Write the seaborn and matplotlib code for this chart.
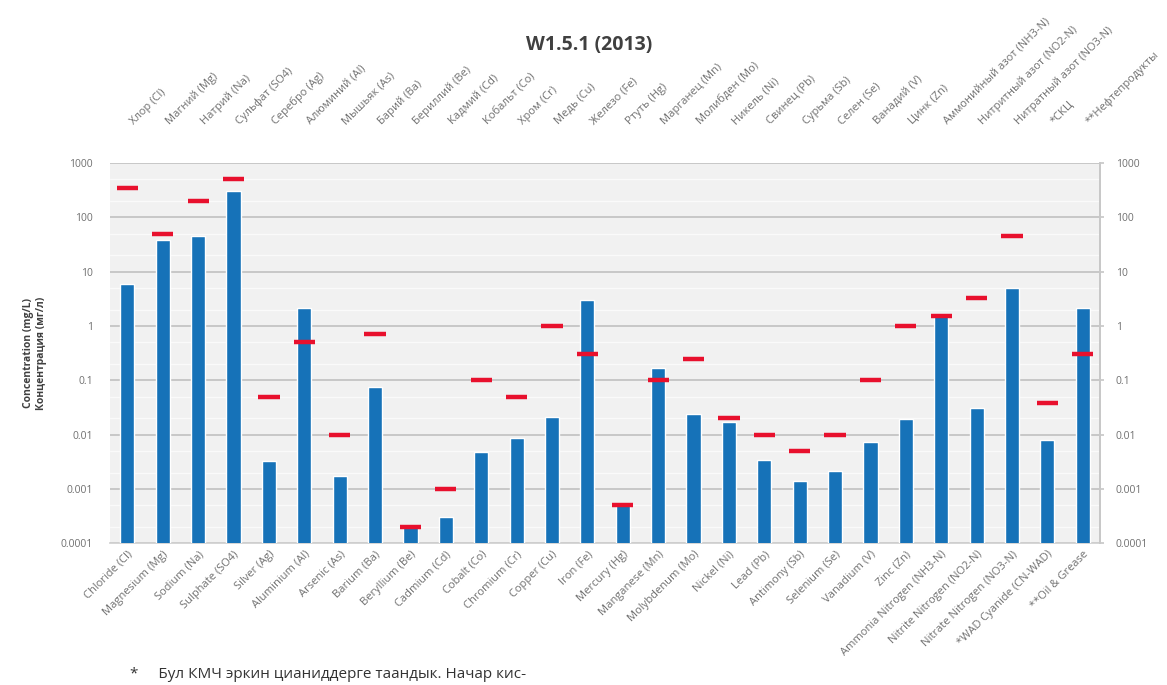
import numpy as np
import pandas as pd
import matplotlib
matplotlib.use("Agg")
import matplotlib.pyplot as plt
import seaborn as sns
from matplotlib.ticker import FixedLocator, NullFormatter

# ---------------- data ----------------
labels_en = ["Chloride (Cl)", "Magnesium (Mg)", "Sodium (Na)", "Sulphate (SO4)", "Silver (Ag)",
             "Aluminium (Al)", "Arsenic (As)", "Barium (Ba)", "Beryllium (Be)", "Cadmium (Cd)",
             "Cobalt (Co)", "Chromium (Cr)", "Copper (Cu)", "Iron (Fe)", "Mercury (Hg)",
             "Manganese (Mn)", "Molybdenum (Mo)", "Nickel (Ni)", "Lead (Pb)", "Antimony (Sb)",
             "Selenium (Se)", "Vanadium (V)", "Zinc (Zn)", "Ammonia Nitrogen (NH3-N)",
             "Nitrite Nitrogen (NO2-N)", "Nitrate Nitrogen (NO3-N)", "*WAD Cyanide (CN-WAD)",
             "**Oil & Grease"]
labels_ru = ["Хлор (Cl)", "Магний (Mg)", "Натрий (Na)", "Сульфат (SO4)", "Серебро (Ag)",
             "Алюминий (Al)", "Мышьяк (As)", "Барий (Ba)", "Бериллий (Be)", "Кадмий (Cd)",
             "Кобальт (Co)", "Хром (Cr)", "Медь (Cu)", "Железо (Fe)", "Ртуть (Hg)",
             "Марганец (Mn)", "Молибден (Mo)", "Никель (Ni)", "Свинец (Pb)", "Сурьма (Sb)",
             "Селен (Se)", "Ванадий (V)", "Цинк (Zn)", "Аммонийный азот (NH3-N)",
             "Нитритный азот (NO2-N)", "Нитратный азот (NO3-N)", "*СКЦ", "**Нефтепродукты"]
measured = [5.8, 38, 45, 300, 0.0033, 2.1, 0.0017, 0.075, 0.00022, 0.0003,
            0.0048, 0.0085, 0.021, 3.0, 0.00052, 0.17, 0.024, 0.017, 0.0034, 0.0014,
            0.0021, 0.0072, 0.019, 1.5, 0.031, 5.0, 0.0078, 2.1]
guideline = [350, 50, 200, 500, 0.05, 0.5, 0.01, 0.7, 0.0002, 0.001,
             0.1, 0.05, 1.0, 0.3, 0.0005, 0.1, 0.25, 0.02, 0.01, 0.005,
             0.01, 0.1, 1.0, 1.5, 3.3, 45, 0.038, 0.3]
ytick_vals = [0.0001, 0.001, 0.01, 0.1, 1, 10, 100, 1000]
ytick_labels = ["0.0001", "0.001", "0.01", "0.1", "1", "10", "100", "1000"]

title = "W1.5.1 (2013)"
ylabel = "Concentration (mg/L)\nКонцентрация (мг/л)"
footnote = "*     Бул КМЧ эркин цианиддерге таандык. Начар кис-"

df = pd.DataFrame({"param": labels_en, "value": measured})

# ---------------- style ----------------
sns.set_theme(style="white")
plt.rcParams["font.family"] = ["Open Sans", "DejaVu Sans"]

fig = plt.figure(figsize=(11.67, 6.85), dpi=100)
ax = fig.add_axes([0.094, 0.207, 0.849, 0.555])
ax.set_yscale("log")
ax.set_facecolor("#f1f1f1")

sns.barplot(data=df, x="param", y="value", order=labels_en, color="#1672b8",
            width=0.4, saturation=1, ax=ax, zorder=3)

n = len(labels_en)
xs = np.arange(n)
ax.hlines(guideline, xs - 0.3, xs + 0.3, colors="#e8102d", linewidth=3.2, zorder=4)

ax.set_ylim(1e-4, 1e3)
ax.set_xlim(-0.5, n - 0.5)

# grid
ax.yaxis.set_major_locator(FixedLocator(ytick_vals))
ax.yaxis.set_minor_locator(FixedLocator([v * m for v in ytick_vals[:-1] for m in (2, 5)]))
ax.yaxis.set_minor_formatter(NullFormatter())
ax.grid(axis="y", which="major", color="#c4c4c4", linewidth=1.3, zorder=0)
ax.grid(axis="y", which="minor", color="#fafafa", linewidth=1.0, zorder=0)
ax.set_axisbelow(True)

ax.set_yticklabels(ytick_labels)
ax.tick_params(axis="y", which="both", length=0, labelsize=7.5, labelcolor="#707070", pad=12)
ax.set_xticks(xs)
ax.set_xticklabels(labels_en, rotation=45, ha="right", rotation_mode="anchor",
                   fontsize=8, color="#707070")
ax.tick_params(axis="x", length=0, pad=4)
ax.set_xlabel("")
ax.set_ylabel(ylabel, fontsize=7.5, fontweight="bold", color="#404040", labelpad=10)

for s in ("top", "left"):
    ax.spines[s].set_visible(False)
ax.spines["bottom"].set_color("#d0d0d0")
ax.spines["right"].set_color("#c8c8c8")

# right axis
ax2 = ax.twinx()
ax2.set_yscale("log")
ax2.set_ylim(ax.get_ylim())
ax2.yaxis.set_major_locator(FixedLocator(ytick_vals))
ax2.yaxis.set_minor_locator(FixedLocator([]))
ax2.set_yticklabels(ytick_labels)
ax2.tick_params(axis="y", length=3, color="#c8c8c8", labelsize=7.5, labelcolor="#707070", pad=8)
for s in ("top", "left", "bottom"):
    ax2.spines[s].set_visible(False)
ax2.spines["right"].set_color("#c8c8c8")
ax2.grid(False)

# top axis with Russian labels
sec = ax.secondary_xaxis("top")
sec.set_xticks(xs + 0.25)
sec.set_xticklabels(labels_ru, rotation=45, ha="left", rotation_mode="anchor",
                    fontsize=8, color="#707070")
sec.tick_params(axis="x", length=0, pad=26)
sec.spines["top"].set_visible(False)

fig.text(0.505, 0.935, title, ha="center", va="center", fontsize=14,
         fontweight="bold", color="#404040")
fig.text(0.111, 0.004, footnote, ha="left", va="bottom", fontsize=11, color="#333333")

fig.savefig("out.png", dpi=100)
